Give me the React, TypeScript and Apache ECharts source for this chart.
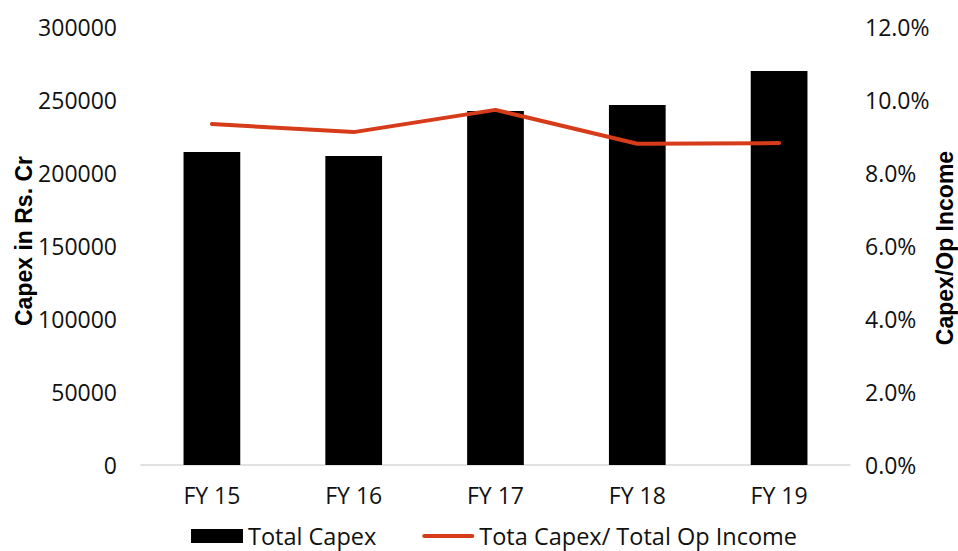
import React, { useEffect, useRef } from "react";
import * as echarts from "echarts";

const categories = ["FY 15", "FY 16", "FY 17", "FY 18", "FY 19"];
const totalCapex = [214400, 211600, 242500, 246600, 269900];
const capexRatio = [9.34, 9.12, 9.73, 8.8, 8.82];
const leftTicks = [0, 50000, 100000, 150000, 200000, 250000, 300000];
const rightTicks = [0, 2, 4, 6, 8, 10, 12];
const leftTitle = "Capex in Rs. Cr";
const rightTitle = "Capex/Op Income";

const FONT = "Open Sans";
const TITLE_FONT = "Liberation Sans";
const LINE_COLOR = "#d63b1a";

export default function App() {
  const ref = useRef<HTMLDivElement>(null);
  useEffect(() => {
    if (!ref.current) return;
    const chart = echarts.init(ref.current, null, { renderer: "svg" });
    const titleStyle = {
      fontFamily: TITLE_FONT,
      fontWeight: "bold",
      fontSize: 23,
      fill: "#000",
      align: "center",
      verticalAlign: "middle",
    };
    chart.setOption({
      animation: false,
      backgroundColor: "#ffffff",
      grid: { left: 141, right: 108, top: 27, bottom: 86, containLabel: false, outerBoundsMode: "none" },
      graphic: [
        { type: "text", x: 24, y: 241, rotation: Math.PI / 2, style: { ...titleStyle, text: leftTitle } },
        { type: "text", x: 945, y: 248, rotation: Math.PI / 2, style: { ...titleStyle, text: rightTitle } },
      ],
      legend: {
        top: 524,
        left: 191,
        padding: 0,
        itemWidth: 52,
        itemHeight: 14,
        itemGap: 46,
        textStyle: { fontFamily: FONT, fontSize: 23.5, lineHeight: 24, color: "#111" },
        data: [
          { name: "Total Capex", icon: "rect" },
          {
            name: "Tota Capex/ Total Op Income",
            icon: "path://M2,0 L52,0 A2,2 0 0 1 52,4 L2,4 A2,2 0 0 1 2,0 Z",
            itemStyle: { color: LINE_COLOR },
          },
        ],
      },
      xAxis: {
        type: "category",
        data: categories,
        axisLine: { lineStyle: { color: "#d9d9d9", width: 1.5 } },
        axisTick: { show: false },
        axisLabel: { fontFamily: FONT, fontSize: 23, color: "#111", margin: 18 },
      },
      yAxis: [
        {
          type: "value",
          min: leftTicks[0],
          max: leftTicks[leftTicks.length - 1],
          interval: 50000,
          axisLine: { show: false },
          axisTick: { show: false },
          splitLine: { show: false },
          axisLabel: {
            fontFamily: FONT,
            fontSize: 23,
            color: "#111",
            margin: 24,
            formatter: (v: number) => String(v),
          },
        },
        {
          type: "value",
          min: rightTicks[0],
          max: rightTicks[rightTicks.length - 1],
          interval: 2,
          axisLine: { show: false },
          axisTick: { show: false },
          splitLine: { show: false },
          axisLabel: {
            fontFamily: FONT,
            fontSize: 23,
            color: "#111",
            margin: 15,
            formatter: (v: number) => v.toFixed(1) + "%",
          },
        },
      ],
      series: [
        {
          name: "Total Capex",
          type: "bar",
          data: totalCapex,
          barCategoryGap: "60%",
          itemStyle: { color: "#000000" },
          yAxisIndex: 0,
        },
        {
          name: "Tota Capex/ Total Op Income",
          type: "line",
          data: capexRatio,
          yAxisIndex: 1,
          symbol: "none",
          lineStyle: { color: LINE_COLOR, width: 4, cap: "round", join: "round" },
          itemStyle: { color: LINE_COLOR },
        },
      ],
    });
    return () => chart.dispose();
  }, []);
  return <div ref={ref} style={{ width: 958, height: 551, position: "absolute", left: 0, top: 0 }} />;
}
